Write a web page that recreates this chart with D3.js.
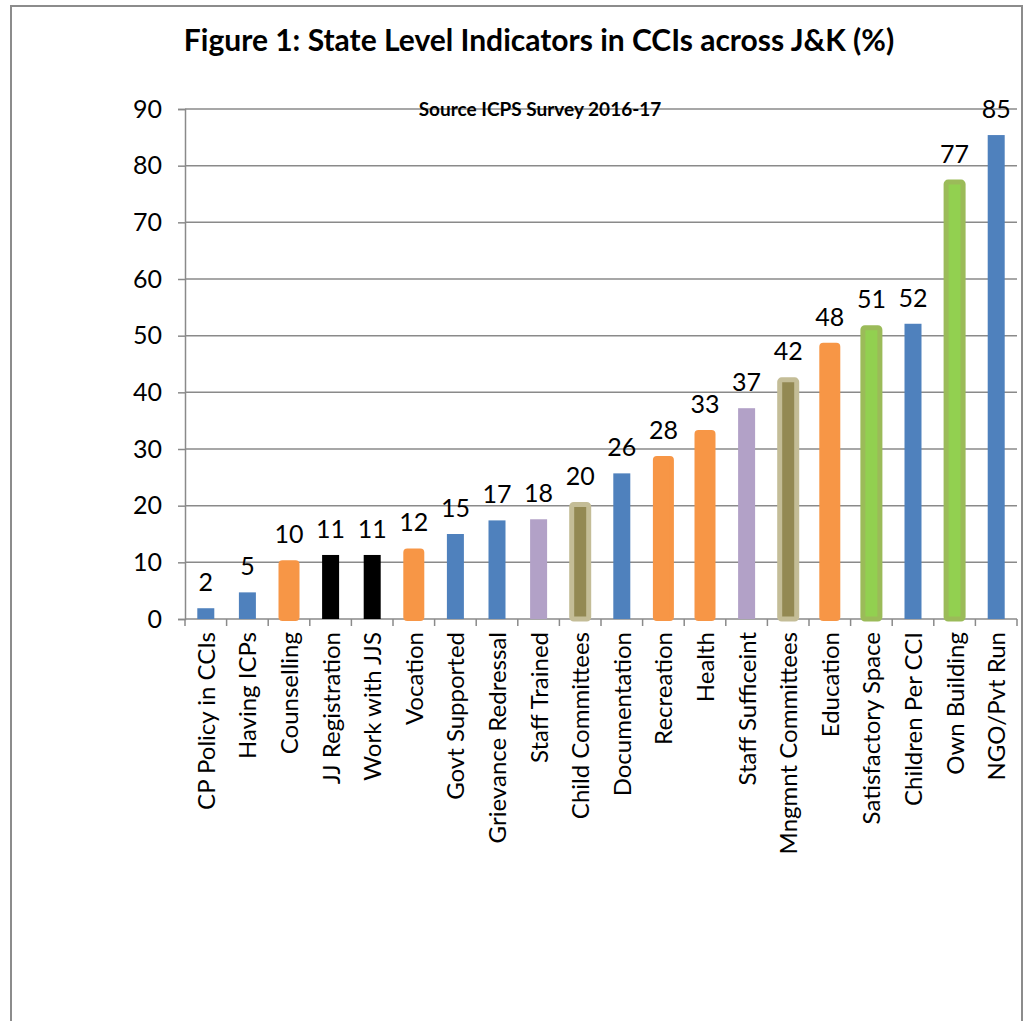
<!DOCTYPE html>
<html>
<head>
<meta charset="utf-8">
<script src="https://cdn.jsdelivr.net/npm/d3@7"></script>
<style>
  html, body { margin: 0; padding: 0; background: #fff; }
  svg { display: block; }
  text { font-family: Lato, "Open Sans", sans-serif; fill: #000; }
</style>
</head>
<body>
<svg id="chart" width="1024" height="1021"></svg>
<script>
// Indicators, in the order they are plotted
const categories = [
  "CP Policy in CCIs", "Having ICPs", "Counselling", "JJ Registration",
  "Work with JJS", "Vocation", "Govt Supported", "Grievance Redressal",
  "Staff Trained", "Child Committees", "Documentation", "Recreation",
  "Health", "Staff Sufficeint", "Mngmnt Committees", "Education",
  "Satisfactory Space", "Children Per CCI", "Own Building", "NGO/Pvt Run"
];
// Share of CCIs (%)
const values = [
  1.9, 4.7, 10, 11.3, 11.3, 12.1, 15, 17.4, 17.6, 20.2,
  25.7, 28.4, 33, 37.2, 42.2, 48.4, 51.4, 52.1, 77.1, 85.4
];
// Colour group of each bar
const groups = [
  "blue", "blue", "orange", "black", "black", "orange", "blue", "blue",
  "purple", "olive", "blue", "orange", "orange", "purple", "olive", "orange",
  "green", "blue", "green", "blue"
];
const yTicks = [0, 10, 20, 30, 40, 50, 60, 70, 80, 90];

const titleText = "Figure 1: State Level Indicators in CCIs across J&K (%)";
const sourceText = "Source ICPS Survey 2016-17";

const styles = {
  blue:   { fill: "#4F81BD", stroke: "none",    sw: 0 },
  black:  { fill: "#000000", stroke: "none",    sw: 0 },
  purple: { fill: "#B2A1C7", stroke: "none",    sw: 0 },
  orange: { fill: "#F79646", stroke: "#F79646", sw: 4 },
  olive:  { fill: "#938953", stroke: "#C4BD97", sw: 5 },
  green:  { fill: "#92D050", stroke: "#9BBB59", sw: 5 }
};

const svg = d3.select("#chart");

// outer frame
svg.append("rect")
  .attr("x", 11).attr("y", 6)
  .attr("width", 1011).attr("height", 1030)
  .attr("fill", "none").attr("stroke", "#8c8c8c").attr("stroke-width", 2);

const plot = { left: 185, right: 1017, top: 109, bottom: 619 };

const x = d3.scaleBand()
  .domain(categories)
  .range([plot.left, plot.right])
  .paddingInner(0).paddingOuter(0);

const y = d3.scaleLinear()
  .domain([0, 90])
  .range([plot.bottom, plot.top]);

const barW = 17;

// horizontal gridlines
svg.append("g")
  .selectAll("line")
  .data(yTicks.filter(t => t > 0))
  .join("line")
  .attr("x1", plot.left).attr("x2", plot.right)
  .attr("y1", d => y(d)).attr("y2", d => y(d))
  .attr("stroke", "#8a8a8a").attr("stroke-width", 1.5);

// y axis
const yAxis = svg.append("g")
  .attr("transform", `translate(${plot.left},0)`)
  .call(d3.axisLeft(y).tickValues(yTicks).tickSize(7).tickPadding(16).tickFormat(d3.format("d")));
yAxis.select(".domain").attr("stroke", "#8a8a8a").attr("stroke-width", 1.5);
yAxis.selectAll(".tick line").attr("stroke", "#8a8a8a").attr("stroke-width", 1.5);
yAxis.selectAll(".tick text")
  .style("font-size", "25px").style("font-family", "Lato, sans-serif").attr("fill", "#000");

// x axis: ticks on the category boundaries
const xAxisG = svg.append("g");
xAxisG.append("line")
  .attr("x1", plot.left).attr("x2", plot.right)
  .attr("y1", plot.bottom).attr("y2", plot.bottom)
  .attr("stroke", "#8a8a8a").attr("stroke-width", 1.5);
xAxisG.selectAll("line.bt")
  .data(categories.map(c => x(c)).concat([plot.right]))
  .join("line").attr("class", "bt")
  .attr("x1", d => d).attr("x2", d => d)
  .attr("y1", plot.bottom).attr("y2", plot.bottom + 7)
  .attr("stroke", "#8a8a8a").attr("stroke-width", 1.5);

// category labels, rotated
xAxisG.selectAll("text.cat")
  .data(categories)
  .join("text").attr("class", "cat")
  .attr("transform", d => `translate(${x(d) + x.bandwidth() / 2 + 9},${plot.bottom + 13}) rotate(-90)`)
  .attr("text-anchor", "end")
  .style("font-size", "24px")
  .text(d => d);

// bars
const data = categories.map((c, i) => ({ c, v: values[i], g: groups[i] }));
svg.append("g")
  .selectAll("rect")
  .data(data)
  .join("rect")
  .attr("x", d => x(d.c) + (x.bandwidth() - barW) / 2)
  .attr("width", barW)
  .attr("y", d => y(d.v))
  .attr("height", d => y(0) - y(d.v))
  .attr("rx", d => styles[d.g].sw ? 2 : 0)
  .attr("fill", d => styles[d.g].fill)
  .attr("stroke", d => styles[d.g].stroke)
  .attr("stroke-width", d => styles[d.g].sw);

// value labels
svg.append("g")
  .selectAll("text")
  .data(data)
  .join("text")
  .attr("x", d => x(d.c) + x.bandwidth() / 2)
  .attr("y", d => y(d.v) - 17 - styles[d.g].sw / 2)
  .attr("text-anchor", "middle")
  .style("font-size", "25px")
  .text(d => d3.format(".0f")(d.v));

// title and source note
svg.append("text")
  .attr("x", 539).attr("y", 51)
  .attr("text-anchor", "middle")
  .style("font-size", "30px").style("font-weight", "bold")
  .text(titleText);

svg.append("text")
  .attr("x", 540).attr("y", 116)
  .attr("text-anchor", "middle")
  .style("font-size", "19px").style("font-weight", "bold")
  .text(sourceText);
</script>
</body>
</html>
